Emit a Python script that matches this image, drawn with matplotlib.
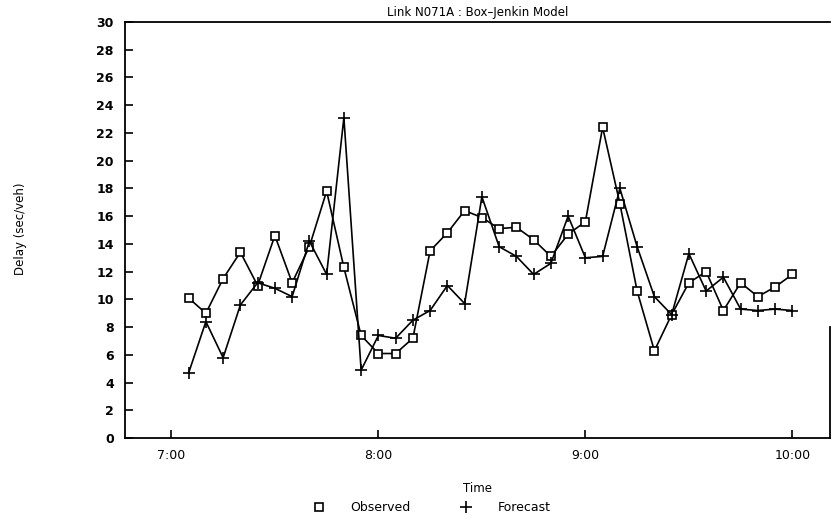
import matplotlib
matplotlib.use("Agg")
import matplotlib.pyplot as plt
from matplotlib.lines import Line2D

times = ["7:05", "7:10", "7:15", "7:20", "7:25", "7:30", "7:35", "7:40", "7:45",
         "7:50", "7:55", "8:00", "8:05", "8:10", "8:15", "8:20", "8:25", "8:30",
         "8:35", "8:40", "8:45", "8:50", "8:55", "9:00", "9:05", "9:10", "9:15",
         "9:20", "9:25", "9:30", "9:35", "9:40", "9:45", "9:50", "9:55", "10:00"]
observed = [10.1, 9.0, 11.5, 13.4, 11.0, 14.6, 11.2, 13.8, 17.8, 12.3, 7.4, 6.1,
            6.1, 7.2, 13.5, 14.8, 16.4, 15.9, 15.1, 15.2, 14.3, 13.1, 14.7, 15.6,
            22.4, 16.9, 10.6, 6.3, 8.9, 11.2, 12.0, 9.2, 11.2, 10.2, 10.9, 11.8]
forecast = [4.7, 8.4, 5.8, 9.6, 11.2, 10.8, 10.2, 14.2, 11.8, 23.1, 4.9, 7.4,
            7.2, 8.5, 9.2, 11.0, 9.7, 17.4, 13.8, 13.1, 11.8, 12.6, 16.0, 13.0,
            13.1, 18.0, 13.8, 10.2, 8.9, 13.3, 10.6, 11.6, 9.3, 9.2, 9.3, 9.2]
tick_labels = ["7:00", "8:00", "9:00", "10:00"]
y_ticks = list(range(0, 31, 2))

def to_min(s):
    h, m = s.split(":")
    return int(h) * 60 + int(m)

x = [to_min(t) for t in times]
xt = [to_min(t) for t in tick_labels]

plt.rcParams['font.family'] = ['DejaVu Sans']
fig = plt.figure(figsize=(8.32, 5.21), dpi=100)
ax = fig.add_axes([0.150, 0.159, 0.848, 0.799])

ax.plot(x, observed, color='black', lw=1.2, marker='s', ms=6,
        mfc='white', mec='black', mew=1.2)
ax.plot(x, forecast, color='black', lw=1.2, marker='+', ms=8, mew=1.2)

ax.set_xlim(406.5, 611)
ax.set_ylim(0, 30)
ax.set_xticks(xt)
ax.set_xticklabels(tick_labels, fontsize=9)
ax.set_yticks(y_ticks)
ax.set_yticklabels([str(v) for v in y_ticks], fontsize=9, fontweight='bold')
ax.tick_params(direction='in', length=6, width=1.2, pad=8)
for s in ['left', 'bottom', 'top']:
    ax.spines[s].set_linewidth(1.3)
ax.spines['right'].set_bounds(0, 8)
ax.spines['right'].set_linewidth(1.3)

ax.set_title("Link N071A : Box\u2013Jenkin Model", fontsize=8.5, pad=4)
ax.set_xlabel("Time", fontsize=8.5, labelpad=14)
fig.text(0.025, 0.56, "Delay (sec/veh)", rotation=90, fontsize=8.5,
         ha='center', va='center')

handles = [Line2D([], [], ls='none', marker='s', ms=6, mfc='white', mec='black', mew=1.2),
           Line2D([], [], ls='none', marker='+', ms=8, color='black', mew=1.2)]
fig.legend(handles, ["Observed", "Forecast"], loc='center', bbox_to_anchor=(0.515, 0.025),
           ncol=2, frameon=False, fontsize=9, handletextpad=1.5, columnspacing=3.5)

fig.savefig("out.png", dpi=100)
